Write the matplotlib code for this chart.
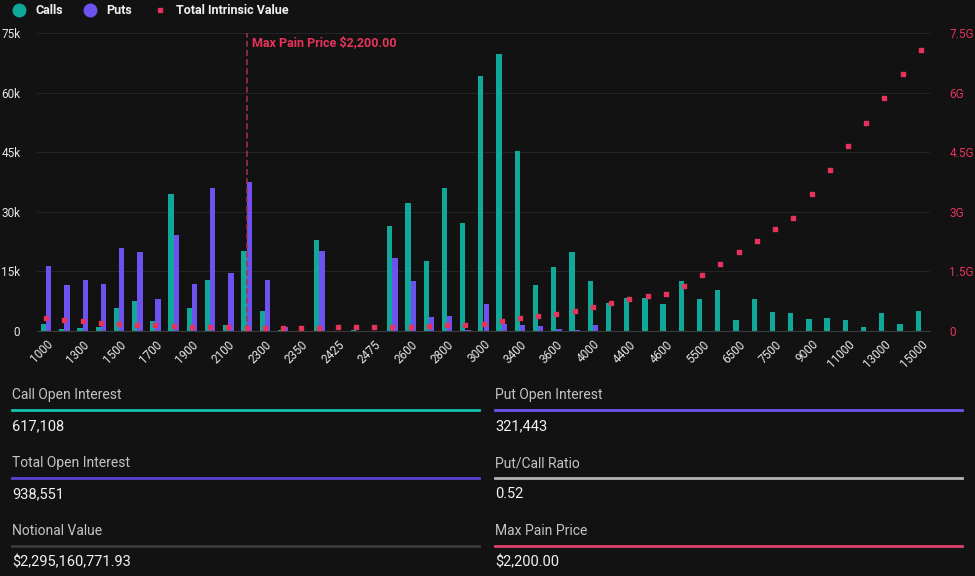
import numpy as np
import matplotlib
matplotlib.use("Agg")
import matplotlib.pyplot as plt
from matplotlib.lines import Line2D

plt.rcParams['font.family'] = ['Roboto', 'DejaVu Sans']

strikes = [1000, 1200, 1300, 1400, 1500, 1600, 1700, 1800, 1900, 2000,
           2100, 2200, 2300, 2325, 2350, 2400, 2425, 2450, 2475, 2500,
           2600, 2700, 2800, 2900, 3000, 3200, 3400, 3500, 3600, 3800,
           4000, 4200, 4400, 4500, 4600, 5000, 5500, 6000, 6500, 7000,
           7500, 8000, 9000, 10000, 11000, 12000, 13000, 14000, 15000]

calls = [1800, 400, 700, 900, 5700, 7500, 2500, 34400, 5700, 12800,
         1400, 20100, 5000, 300, 0, 22800, 0, 200, 0, 26500,
         32100, 17600, 35900, 27300, 64300, 69600, 45400, 11500, 16000, 19800,
         12500, 7100, 8200, 8300, 6800, 12500, 8100, 10200, 2700, 8000,
         4700, 4500, 2900, 3200, 2700, 900, 4500, 1800, 5000]

puts = [16300, 11500, 12800, 11800, 20800, 19800, 8000, 24100, 11800, 36000,
        14500, 37600, 12800, 900, 0, 20100, 0, 0, 0, 18300,
        12500, 3500, 3800, 300, 6800, 1800, 1500, 1200, 500, 250,
        1500, 0, 0, 0, 0, 0, 0, 0, 0, 0,
        0, 0, 0, 0, 0, 0, 0, 0, 0]

# total intrinsic value, in G
intrinsic = [0.33, 0.28, 0.25, 0.20, 0.18, 0.16, 0.15, 0.13, 0.10, 0.10,
             0.10, 0.08, 0.08, 0.08, 0.08, 0.08, 0.10, 0.10, 0.10, 0.10,
             0.10, 0.13, 0.15, 0.15, 0.18, 0.25, 0.33, 0.39, 0.44, 0.50,
             0.61, 0.71, 0.81, 0.88, 0.93, 1.14, 1.41, 1.69, 1.98, 2.27,
             2.56, 2.84, 3.45, 4.05, 4.66, 5.24, 5.86, 6.46, 7.07]

max_pain = 2200

stats = [("Call Open Interest", "617,108", "#14c2ad"),
         ("Put Open Interest", "321,443", "#6f52f2"),
         ("Total Open Interest", "938,551", "#5b42d6"),
         ("Put/Call Ratio", "0.52", "#b4b4b4"),
         ("Notional Value", "$2,295,160,771.93", "#3a3a3a"),
         ("Max Pain Price", "$2,200.00", "#e0406a")]

bg = '#121212'
teal = '#10a898'
purple = '#6e52f0'
red = '#e5335c'

fig = plt.figure(figsize=(9.75, 5.76), dpi=100, facecolor=bg)
ax = fig.add_axes([37 / 975, 1 - 331 / 576, (930 - 37) / 975, (331 - 33) / 576])
ax.set_facecolor(bg)

x = np.arange(len(strikes))
w = 0.29
ax.bar(x - w / 2, calls, width=w, color=teal, zorder=2)
ax.bar(x + w / 2, puts, width=w, color=purple, zorder=2)

ax.set_xlim(-0.5, len(strikes) - 0.5)
ax.set_ylim(0, 75000)
ax.set_yticks(np.arange(0, 75001, 15000))
ax.set_yticklabels(['0', '15k', '30k', '45k', '60k', '75k'])
ax.grid(axis='y', color='#242424', lw=0.8, zorder=0)
ax.tick_params(axis='y', length=0, pad=12, colors='#e6e6e6', labelsize=8.5)
ax.set_xticks(x[::2])
ax.set_xticklabels([str(s) for s in strikes[::2]], rotation=45, ha='right',
                   rotation_mode='anchor', fontsize=8.5, color='#e6e6e6')
ax.tick_params(axis='x', length=0, pad=5)
for s in ['top', 'right', 'left']:
    ax.spines[s].set_visible(False)
ax.spines['bottom'].set_color('#3c3c3c')

mp = strikes.index(max_pain)
ax.axvline(mp, color='#a8304f', ls=(0, (4, 2)), lw=1.1, zorder=3)
ax.text(mp + 0.3, 72500, 'Max Pain Price $2,200.00', color=red,
        fontsize=9, fontweight='bold', va='center')

ax2 = ax.twinx()
ax2.set_ylim(0, 7.5)
ax2.scatter(x, intrinsic, marker='s', s=10, color=red, zorder=4)
ax2.set_yticks([0, 1.5, 3, 4.5, 6, 7.5])
ax2.set_yticklabels(['0', '1.5G', '3G', '4.5G', '6G', '7.5G'])
ax2.tick_params(axis='y', length=0, pad=14, colors=red, labelsize=8.5)
for s in ax2.spines.values():
    s.set_visible(False)

handles = [Line2D([], [], marker='o', ls='', color=teal, markersize=9),
           Line2D([], [], marker='o', ls='', color=purple, markersize=9),
           Line2D([], [], marker='s', ls='', color=red, markersize=3.5)]
fig.legend(handles, ['Calls', 'Puts', 'Total Intrinsic Value'], loc='upper left',
           bbox_to_anchor=(-0.005, 1.012), ncol=3, frameon=False, handletextpad=0.3,
           columnspacing=1.2, prop={'weight': 'bold', 'size': 9}, labelcolor='#f0f0f0')

# summary panel
cols = [12 / 975, 495 / 975]
colw = 467 / 975
rows = [395, 463, 531]
for i, (label, value, c) in enumerate(stats):
    x0 = cols[i % 2]
    yl = rows[i // 2]
    fig.text(x0, 1 - yl / 576, label, color='#c4c4c4', fontsize=10, va='center')
    fig.add_artist(Line2D([x0, x0 + colw], [1 - (yl + 15) / 576] * 2, color=c, lw=2))
    fig.text(x0, 1 - (yl + 31) / 576, value, color='#f2f2f2', fontsize=10.5, va='center')

fig.savefig('out.png', dpi=100, facecolor=bg)
